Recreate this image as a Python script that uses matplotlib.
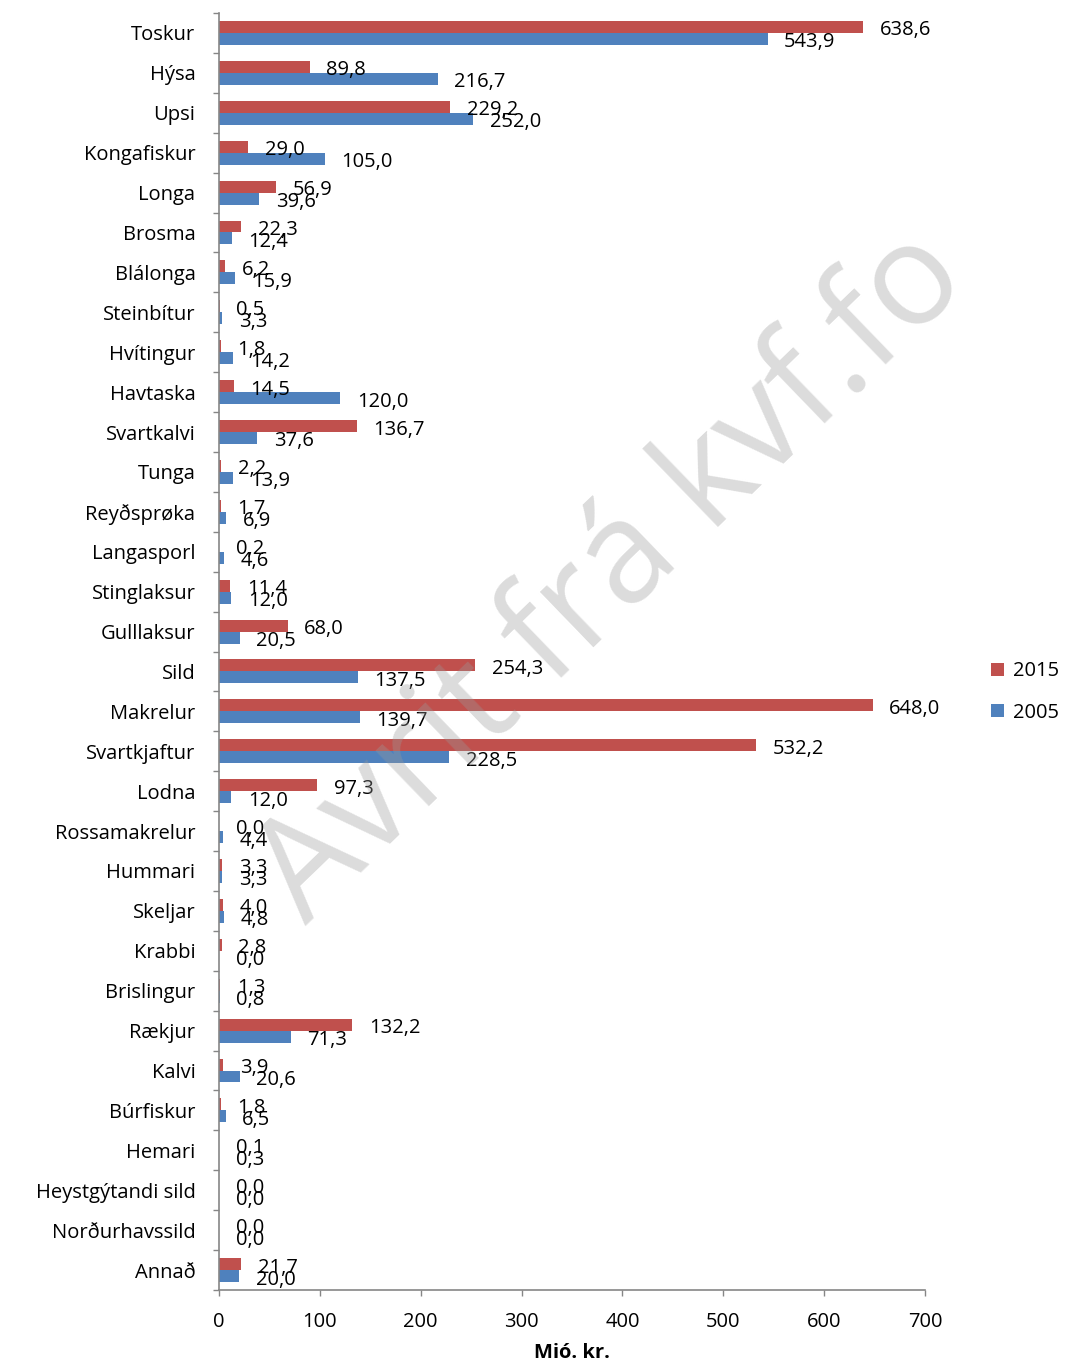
import matplotlib
matplotlib.use("Agg")
import matplotlib.pyplot as plt
import numpy as np

plt.rcParams['font.family'] = ['Open Sans', 'DejaVu Sans']

species = ["Toskur", "Hýsa", "Upsi", "Kongafiskur", "Longa", "Brosma", "Blálonga",
           "Steinbítur", "Hvítingur", "Havtaska", "Svartkalvi", "Tunga", "Reyðsprøka",
           "Langasporl", "Stinglaksur", "Gulllaksur", "Sild", "Makrelur", "Svartkjaftur",
           "Lodna", "Rossamakrelur", "Hummari", "Skeljar", "Krabbi", "Brislingur",
           "Rækjur", "Kalvi", "Búrfiskur", "Hemari", "Heystgýtandi sild",
           "Norðurhavssild", "Annað"]
val_2015 = [638.6, 89.8, 229.2, 29.0, 56.9, 22.3, 6.2, 0.5, 1.8, 14.5, 136.7, 2.2, 1.7,
            0.2, 11.4, 68.0, 254.3, 648.0, 532.2, 97.3, 0.0, 3.3, 4.0, 2.8, 1.3,
            132.2, 3.9, 1.8, 0.1, 0.0, 0.0, 21.7]
val_2005 = [543.9, 216.7, 252.0, 105.0, 39.6, 12.4, 15.9, 3.3, 14.2, 120.0, 37.6, 13.9, 6.9,
            4.6, 12.0, 20.5, 137.5, 139.7, 228.5, 12.0, 4.4, 3.3, 4.8, 0.0, 0.8,
            71.3, 20.6, 6.5, 0.3, 0.0, 0.0, 20.0]
x_ticks = [0, 100, 200, 300, 400, 500, 600, 700]

red = "#C0504D"
blue = "#4F81BD"
fs = 14.5

fig = plt.figure(figsize=(10.67, 13.65), dpi=100)
ax = fig.add_axes([219/1067, 1-1290/1365, 706/1067, 1277/1365])

y = np.arange(len(species))
h = 0.3
ax.barh(y - h/2, val_2015, height=h, color=red, label="2015", zorder=2)
ax.barh(y + h/2, val_2005, height=h, color=blue, label="2005", zorder=2)

def fmt(v):
    return f"{v:.1f}".replace(".", ",")

for yi, v in zip(y, val_2015):
    ax.annotate(fmt(v), (v, yi - h/2), xytext=(12, -2.5), textcoords="offset points",
                ha="left", va="center", fontsize=fs, color="black", zorder=4)
for yi, v in zip(y, val_2005):
    ax.annotate(fmt(v), (v, yi + h/2), xytext=(12, -2.5), textcoords="offset points",
                ha="left", va="center", fontsize=fs, color="black", zorder=4)

ax.set_ylim(len(species) - 0.5, -0.5)
ax.set_xlim(0, 700)
ax.set_yticks(y)
ax.set_yticklabels(species, fontsize=fs)
ax.set_yticks(np.arange(len(species) + 1) - 0.5, minor=True)
ax.tick_params(axis="y", which="major", length=0, pad=17)
ax.tick_params(axis="y", which="minor", length=4, color="#868686", width=1)
ax.set_xticks(x_ticks)
ax.tick_params(axis="x", length=4, color="#868686", width=1, pad=12, labelsize=fs)

for s in ["top", "right"]:
    ax.spines[s].set_visible(False)
for s in ["left", "bottom"]:
    ax.spines[s].set_color("#868686")
    ax.spines[s].set_linewidth(1.2)

ax.set_xlabel("Mió. kr.", fontsize=fs, fontweight="bold", labelpad=8)

fig.legend(loc="center left", bbox_to_anchor=(0.912, 1-692/1365), frameon=False,
           fontsize=fs, handlelength=0.65, handleheight=0.65, handletextpad=0.45,
           labelspacing=1.05)

fig.text(0.574, 0.577, "Avrit frá kvf.fo", fontsize=102, color="#9a9a9a", alpha=0.35,
         rotation=44, ha="center", va="center", zorder=10)

fig.savefig("out.png", dpi=100)
